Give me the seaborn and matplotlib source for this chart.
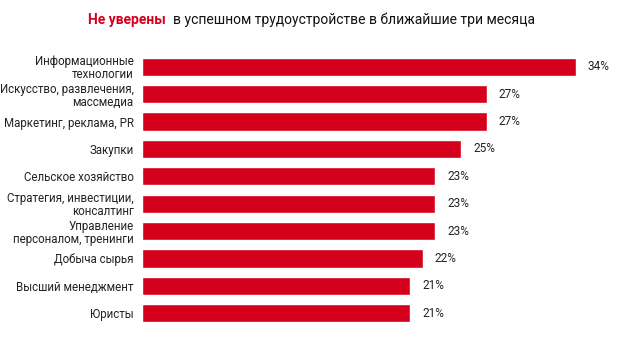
import matplotlib
matplotlib.use("Agg")
import matplotlib.pyplot as plt
import seaborn as sns
import pandas as pd
from matplotlib import font_manager

categories = [
    "Информационные\nтехнологии",
    "Искусство, развлечения,\nмассмедиа",
    "Маркетинг, реклама, PR",
    "Закупки",
    "Сельское хозяйство",
    "Стратегия, инвестиции,\nконсалтинг",
    "Управление\nперсоналом, тренинги",
    "Добыча сырья",
    "Высший менеджмент",
    "Юристы",
]
values = [34, 27, 27, 25, 23, 23, 23, 22, 21, 21]
value_labels = [f"{v}%" for v in values]
title_red = "Не уверены"
title_rest = "в успешном трудоустройстве в ближайшие три месяца"

RED = "#D5001C"
sns.set_theme(style="white")
plt.rcParams["font.family"] = ["Roboto", "DejaVu Sans"]

names = {f.name for f in font_manager.fontManager.ttflist}
title_family = ["Liberation Sans Narrow", "DejaVu Sans"] if "Liberation Sans Narrow" in names else ["Roboto", "DejaVu Sans"]
title_size = 12.5 if "Liberation Sans Narrow" in names else 10

df = pd.DataFrame({"cat": categories, "val": values})

W, H = 623, 337
fig = plt.figure(figsize=(W / 100, H / 100), dpi=100)
xmax = 37
px_per = 12.76
left = 142
top = 53.3
bottom = 326.7
ax = fig.add_axes([left / W, 1 - bottom / H, xmax * px_per / W, (bottom - top) / H])

sns.barplot(data=df, x="val", y="cat", color=RED, saturation=1, width=0.67, ax=ax, orient="h")
ax.set_xlim(0, xmax)
ax.set_ylim(len(categories) - 0.5, -0.5)
for s in ax.spines.values():
    s.set_visible(False)
ax.set_xticks([])
ax.set_xlabel("")
ax.set_ylabel("")
ax.tick_params(axis="y", length=0, pad=6, labelsize=8.3, labelcolor="#222222")
for lab in ax.get_yticklabels():
    lab.set_horizontalalignment("right")
    lab.set_multialignment("right")
    lab.set_linespacing(1.0)

for i, (v, t) in enumerate(zip(values, value_labels)):
    ax.annotate(t, (v, i), xytext=(12, 0), textcoords="offset pixels",
                va="center", ha="left", fontsize=8.5, color="#222222")

t1 = fig.text(88 / W, 1 - 20 / H, title_red, color=RED, fontsize=title_size, fontweight="bold",
              va="center", ha="left", family=title_family)
fig.canvas.draw()
bb = t1.get_window_extent()
fig.text((bb.x1 + 7) / W, 1 - 20 / H, title_rest, color="#111111", fontsize=title_size,
         va="center", ha="left", family=title_family)

fig.savefig("out.png", dpi=100)
